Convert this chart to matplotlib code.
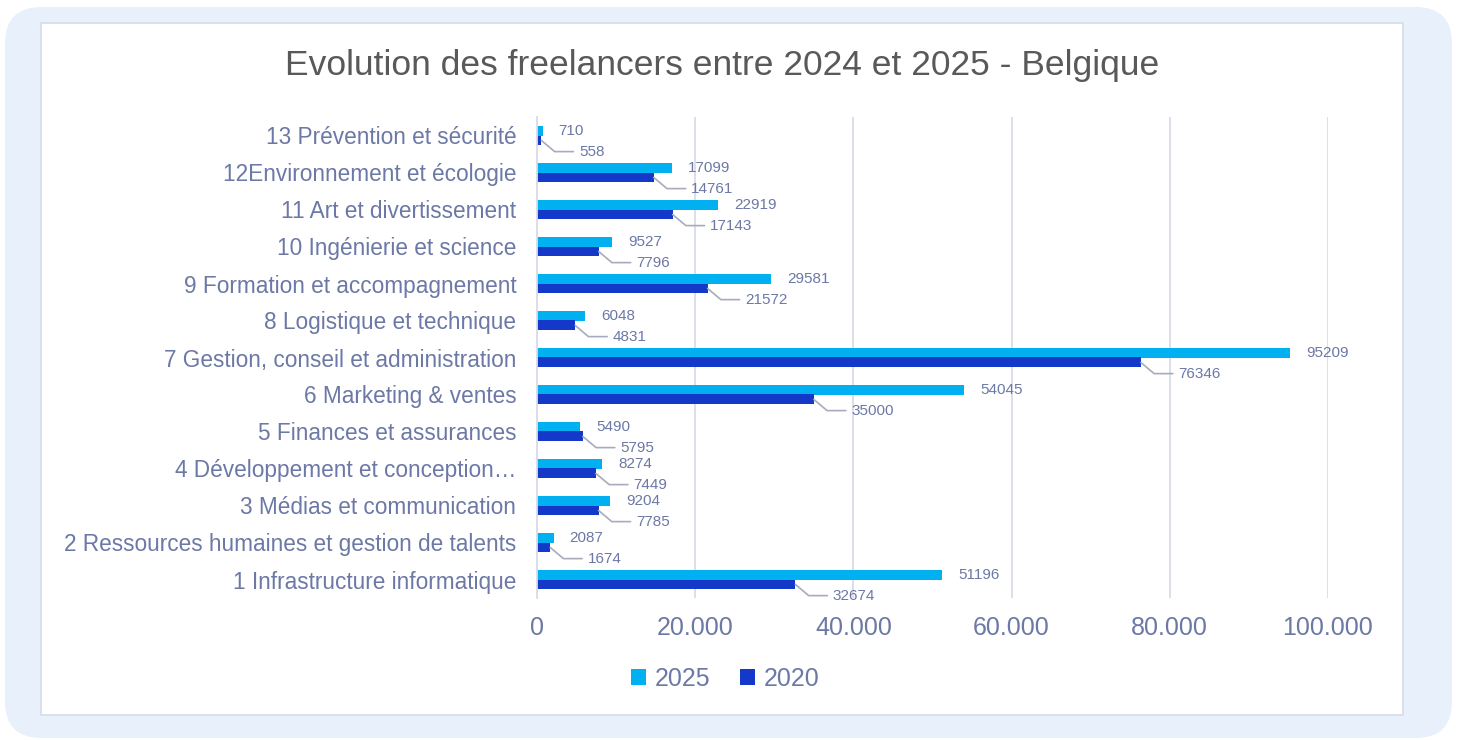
import matplotlib.pyplot as plt
import numpy as np
from matplotlib.patches import FancyBboxPatch, Rectangle
from matplotlib.ticker import FuncFormatter

plt.rcParams['font.family'] = ['Liberation Sans', 'DejaVu Sans']

# data, bottom row first
categories = [
    "1 Infrastructure informatique",
    "2 Ressources humaines et gestion de talents",
    "3 Médias et communication",
    "4 Développement et conception…",
    "5 Finances et assurances",
    "6 Marketing & ventes",
    "7 Gestion, conseil et administration",
    "8 Logistique et technique",
    "9 Formation et accompagnement",
    "10 Ingénierie et science",
    "11 Art et divertissement",
    "12Environnement et écologie",
    "13 Prévention et sécurité",
]
values_2025 = [51196, 2087, 9204, 8274, 5490, 54045, 95209, 6048, 29581, 9527, 22919, 17099, 710]
values_2020 = [32674, 1674, 7785, 7449, 5795, 35000, 76346, 4831, 21572, 7796, 17143, 14761, 558]
series_names = ["2025", "2020"]

c25 = "#00b0f0"
c20 = "#1438c8"
txt = "#6c78a6"
grid_c = "#d9dce8"
lead_c = "#a8abbd"

W, H = 1457, 740
fig = plt.figure(figsize=(W / 100, H / 100), dpi=100)
fig.patch.set_facecolor("white")

# rounded light-blue background and white inner panel
bg = FancyBboxPatch((5 / W, 2 / H), 1447 / W, 731 / H,
                    boxstyle="round,pad=0,rounding_size=0.025",
                    transform=fig.transFigure, facecolor="#e8f0fc",
                    edgecolor="none", zorder=-10, mutation_aspect=W / H)
fig.patches.append(bg)
panel = Rectangle((41 / W, 1 - 715 / H), 1362 / W, 692 / H,
                  transform=fig.transFigure, facecolor="white",
                  edgecolor="#d6dce8", lw=1.2, zorder=-9)
fig.patches.append(panel)

ax = fig.add_axes([537 / W, 1 - 598 / H, 791 / W, 481 / H])
ax.set_facecolor("none")

y = np.arange(len(categories))
h = 0.27
ax.barh(y + h / 2, values_2025, height=h, color=c25, zorder=3, label=series_names[0])
ax.barh(y - h / 2, values_2020, height=h, color=c20, zorder=3, label=series_names[1])

ax.set_xlim(0, 100000)
ax.set_ylim(-0.5, len(categories) - 0.5)
ax.set_xticks(np.arange(0, 100001, 20000))
ax.xaxis.set_major_formatter(FuncFormatter(lambda v, p: f"{int(v):,}".replace(",", ".")))
ax.set_yticks(y)
ax.set_yticklabels(categories)
ax.tick_params(axis="y", length=0, pad=15, labelsize=16.3, labelcolor=txt)
ax.tick_params(axis="x", length=0, pad=13, labelsize=18, labelcolor=txt)
ax.grid(axis="x", color=grid_c, lw=1.3, zorder=0)
for s in ["top", "right", "bottom"]:
    ax.spines[s].set_visible(False)
ax.spines["left"].set_color(grid_c)
ax.spines["left"].set_linewidth(1.3)
ax.spines["left"].set_zorder(4)

# data labels
for i in range(len(categories)):
    ax.annotate(str(values_2025[i]), (values_2025[i], y[i] + h / 2),
                xytext=(11.5, 0), textcoords="offset points",
                ha="left", va="center", fontsize=11, color=txt)
    ax.annotate(str(values_2020[i]), (values_2020[i], y[i] - h / 2),
                xytext=(27, -8), textcoords="offset points",
                ha="left", va="center", fontsize=11, color=txt,
                arrowprops=dict(arrowstyle="-", color=lead_c, lw=1.2,
                                shrinkA=2, shrinkB=0,
                                connectionstyle="angle,angleA=0,angleB=-40,rad=0"))

fig.text(722 / W, 1 - 65 / H, "Evolution des freelancers entre 2024 et 2025 - Belgique",
         ha="center", va="center", fontsize=25.5, color="#595959")

fig.legend(loc="center", bbox_to_anchor=(725 / W, 1 - 679 / H), ncol=2,
           frameon=False, fontsize=18, labelcolor=txt, handlelength=0.6,
           handleheight=0.6, handletextpad=0.35, columnspacing=1.2)

fig.savefig("out.png", dpi=100)
